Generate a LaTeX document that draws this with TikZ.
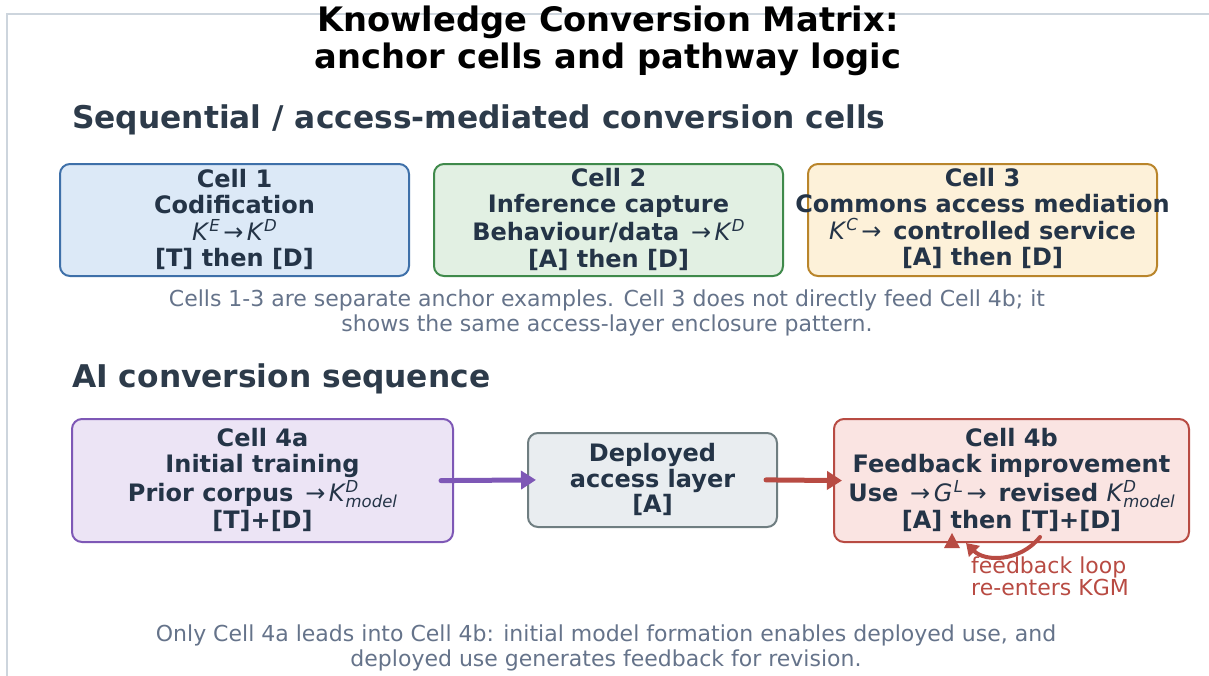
\documentclass[tikz,border=0pt]{standalone}
\usepackage{fontspec}
\setmainfont{DejaVu Sans}
\usetikzlibrary{arrows.meta,calc}
\definecolor{framec}{HTML}{CDD5DD}
\definecolor{ink}{HTML}{243447}
\definecolor{headc}{HTML}{2D3B4A}
\definecolor{capc}{HTML}{65738A}
\definecolor{bAf}{HTML}{DCE9F7}\definecolor{bAd}{HTML}{3E70A9}
\definecolor{bBf}{HTML}{E2F0E3}\definecolor{bBd}{HTML}{3F8A4B}
\definecolor{bCf}{HTML}{FDF1D9}\definecolor{bCd}{HTML}{B9852B}
\definecolor{bDf}{HTML}{ECE4F5}\definecolor{bDd}{HTML}{7E58B6}
\definecolor{bEf}{HTML}{E9EDF0}\definecolor{bEd}{HTML}{6F7E81}
\definecolor{bFf}{HTML}{FAE4E2}\definecolor{bFd}{HTML}{B84B43}
\newcommand\mi[1]{{\mdseries\itshape #1}}
\newcommand\scr[1]{{\fontsize{16.5}{16.5}\selectfont\mi{#1}}}
\newcommand\kup[2]{\mi{#1}\hspace{1.5pt}\raisebox{0.36em}{\scr{#2}}}
\newcommand\kdm{\mi{K}\hspace{1pt}\rlap{\raisebox{0.36em}{\scr{D}}}\raisebox{-0.28em}{\scr{model}}}
\newcommand\arr{\hspace{3.5pt}{\mdseries →}\hspace{3.5pt}}
\tikzset{
  cellbox/.style={draw, rounded corners=10pt, line width=2pt, inner sep=0pt},
  celltext/.style={text=ink, font=\bfseries\fontsize{24}{25.5}\selectfont, align=center, inner sep=0pt},
  headtext/.style={text=headc, font=\bfseries\fontsize{31.3}{34}\selectfont, anchor=west, inner sep=0pt},
  captext/.style={text=capc, font=\fontsize{22}{25}\selectfont, align=center, inner sep=0pt},
  flow/.style={line width=5pt, line cap=round, -{Triangle[length=15pt,width=18pt]}},
}
\begin{document}
\begin{tikzpicture}[x=1pt,y=-1pt]
\useasboundingbox (0,0) rectangle (1209,675);
\draw[framec, line width=2.5pt] (7,680) -- (7,14) -- (1215,14);

\node[font=\bfseries\fontsize{33.7}{37}\selectfont, align=center, inner sep=0pt] (title) at (608,40.5)
  {Knowledge Conversion Matrix:\\anchor cells and pathway logic};

\node[headtext] (h1) at (72,119.5) {Sequential / access-mediated conversion cells};

\node[cellbox, fill=bAf, draw=bAd, minimum width=349pt, minimum height=112pt] (c1) at (234.5,220) {};
\node[cellbox, fill=bBf, draw=bBd, minimum width=349pt, minimum height=112pt] (c2) at (608.5,220) {};
\node[cellbox, fill=bCf, draw=bCd, minimum width=349pt, minimum height=112pt] (c3) at (982.5,220) {};
\node[celltext] (t1) at (234.5,219.5) {Cell 1\\Codification\\[1.5pt]\kup{K}{E}\arr\kup{K}{D}\\[1pt]{}[T] then [D]};
\node[celltext] (t2) at (608.5,219.5) {Cell 2\\Inference capture\\[1.5pt]Behaviour/data \arr\kup{K}{D}\\[1pt]{}[A] then [D]};
\node[celltext] (t3) at (982.5,218.5) {Cell 3\\Commons access mediation\\[1.5pt]\kup{K}{C}\arr{} controlled service\\[1pt]{}[A] then [D]};

\node[captext] (cap1) at (607,313) {Cells 1-3 are separate anchor examples. Cell 3 does not directly feed Cell 4b; it\\shows the same access-layer enclosure pattern.};

\node[headtext] (h2) at (72,379) {AI conversion sequence};

\node[cellbox, fill=bDf, draw=bDd, minimum width=381pt, minimum height=123pt] (c4a) at (262.5,480.5) {};
\node[cellbox, fill=bEf, draw=bEd, minimum width=249pt, minimum height=94pt] (dep) at (652.5,480) {};
\node[cellbox, fill=bFf, draw=bFd, minimum width=355pt, minimum height=123pt] (c4b) at (1011.5,480.5) {};
\node[celltext] (t4a) at (262.5,480) {Cell 4a\\Initial training\\[2pt]Prior corpus \arr\kdm\\[1.5pt]{}[T]+[D]};
\node[celltext] (tdep) at (652.5,479.5) {Deployed\\access layer\\{}[A]};
\node[celltext] (t4b) at (1011.5,480) {Cell 4b\\Feedback improvement\\[2pt]Use \arr\kup{G}{L}\arr{} revised \kdm\\[1.5pt]{}[A] then [T]+[D]};

\draw[flow, bDd, shorten <=-13pt, shorten >=-9pt] (c4a.east) -- (dep.west);
\draw[flow, bFd, shorten <=-12pt, shorten >=-9pt] (dep.east) -- (c4b.west);

\coordinate (fbs) at (1040,537);
\coordinate (fbe) at (966,543);
\draw[bFd, line width=4pt, line cap=round, -{Triangle[length=12pt,width=15pt]}] (fbs) .. controls (1020,562) and (985,562) .. (fbe);
\fill[bFd] (952,533) -- (960,548) -- (944,548) -- cycle;
\node[text=bFd, font=\fontsize{22}{22}\selectfont, align=left, anchor=north west, inner sep=0pt] (fbl) at (971,557) {feedback loop\\re-enters KGM};

\node[captext] (cap2) at (606,647.5) {Only Cell 4a leads into Cell 4b: initial model formation enables deployed use, and\\deployed use generates feedback for revision.};
\end{tikzpicture}
\end{document}
